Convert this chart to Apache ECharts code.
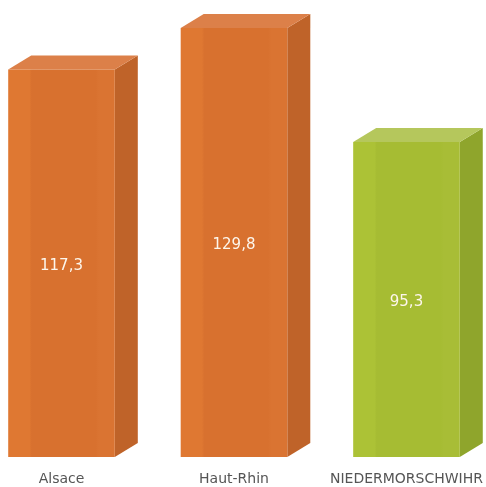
<!DOCTYPE html>
<html>
<head>
<meta charset="utf-8">
<script src="https://cdn.jsdelivr.net/npm/echarts@6/dist/echarts.min.js"></script>
<style>
  html, body { margin: 0; padding: 0; background: #ffffff; }
  #chart { width: 486px; height: 487px; }
</style>
</head>
<body>
<div id="chart"></div>
<script>
// Territories and their values
const categories = ['Alsace', 'Haut-Rhin', 'NIEDERMORSCHWIHR'];
const values = [117.3, 129.8, 95.3];
const paletteKeys = ['orange', 'orange', 'green'];

// Face shades for the 3D boxes
const palettes = {
  orange: { light: '#df7832', front: '#d8712f', edge: '#da7432', side: '#bf6329', top: '#dc8049' },
  green:  { light: '#acc236', front: '#a6bc33', edge: '#a8bd36', side: '#8fa52c', top: '#b5c75c' }
};

const DEPTH_X = 23;
const DEPTH_Y = 14;

function fmt(v) {
  return v.toFixed(1).replace('.', ',');
}

function renderBox(params, api) {
  const idx = api.value(0);
  const val = api.value(1);
  const base = api.coord([idx, 0]);
  const top = api.coord([idx, val]);
  const step = api.coord([1, 0])[0] - api.coord([0, 0])[0];
  const w = step * 0.618;
  const x0 = base[0] - w / 2;
  const x1 = base[0] + w / 2;
  const yb = base[1];
  const yt = top[1];
  const p = palettes[paletteKeys[idx]];

  const frontFill = new echarts.graphic.LinearGradient(0, 0, 1, 0, [
    { offset: 0, color: p.light },
    { offset: 0.2, color: p.light },
    { offset: 0.22, color: p.front },
    { offset: 0.82, color: p.front },
    { offset: 0.85, color: p.edge },
    { offset: 1, color: p.edge }
  ]);

  return {
    type: 'group',
    children: [
      {
        type: 'polygon',
        shape: { points: [[x1, yt], [x1 + DEPTH_X, yt - DEPTH_Y], [x1 + DEPTH_X, yb - DEPTH_Y], [x1, yb]] },
        style: { fill: p.side }
      },
      {
        type: 'polygon',
        shape: { points: [[x0, yt], [x0 + DEPTH_X, yt - DEPTH_Y], [x1 + DEPTH_X, yt - DEPTH_Y], [x1, yt]] },
        style: { fill: p.top }
      },
      {
        type: 'rect',
        shape: { x: x0, y: yt, width: w, height: yb - yt },
        style: { fill: frontFill }
      },
      {
        type: 'text',
        x: (x0 + x1) / 2,
        y: (yt + yb) / 2 + 3,
        style: {
          text: fmt(val),
          fill: '#fdf6ec',
          font: '15px "DejaVu Sans"',
          align: 'center',
          verticalAlign: 'middle'
        }
      }
    ]
  };
}

const chart = echarts.init(document.getElementById('chart'), null, { renderer: 'canvas' });
chart.setOption({
  animation: false,
  grid: { left: 61.5, right: 78.5, top: 1, bottom: 30 },
  xAxis: {
    type: 'category',
    data: categories,
    boundaryGap: false,
    axisLine: { show: false },
    axisTick: { show: false },
    axisLabel: {
      margin: 15,
      color: '#555555',
      fontFamily: 'DejaVu Sans',
      fontSize: 14,
      interval: 0
    }
  },
  yAxis: {
    type: 'value',
    min: 0,
    max: 138,
    show: false,
    splitLine: { show: false }
  },
  series: [{
    type: 'custom',
    renderItem: renderBox,
    clip: false,
    data: values.map((v, i) => [i, v])
  }]
});
</script>
</body>
</html>
